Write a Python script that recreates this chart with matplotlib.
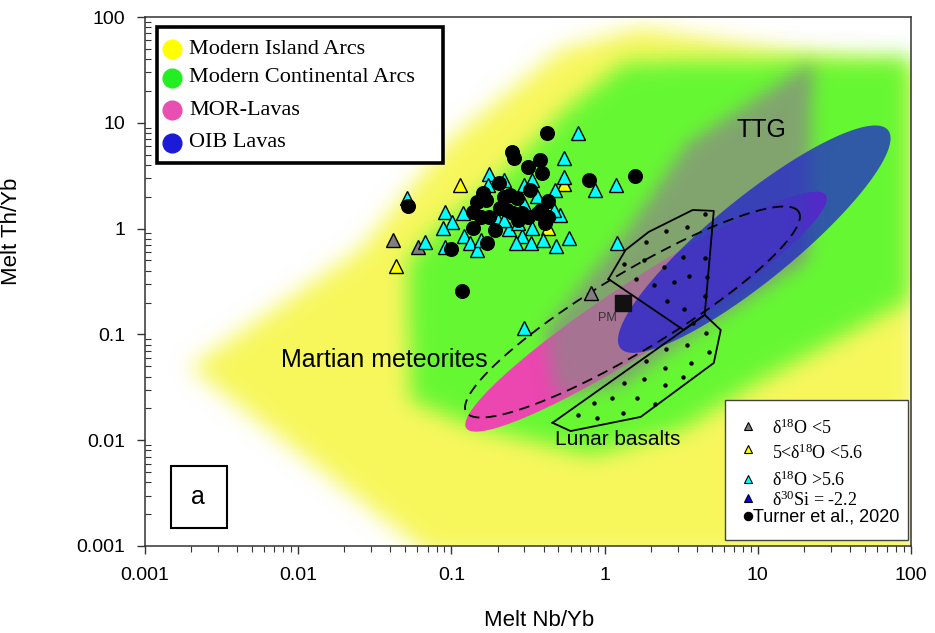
import numpy as np
import matplotlib
matplotlib.use('Agg')
import matplotlib.pyplot as plt
from matplotlib.path import Path
from matplotlib.colors import LinearSegmentedColormap
from matplotlib.patches import Rectangle
from matplotlib.ticker import FixedLocator, FixedFormatter, LogLocator, NullFormatter

plt.rcParams['font.family'] = 'Liberation Sans'
plt.rcParams['mathtext.fontset'] = 'custom'
plt.rcParams['mathtext.rm'] = 'Liberation Serif'
plt.rcParams['mathtext.it'] = 'Liberation Serif:italic'

# ---- field outlines (Nb/Yb, Th/Yb) ----
island_nb = [0.00197, 0.0254, 0.0985, 0.515, 1.72, 22.2, 108, 108, 0.073]
island_th = [0.049, 0.63, 6.9, 48.7, 78.7, 43.8, 35.2, 0.00074, 0.00082]

cont_nb = [1.37, 97, 97, 10.5, 3.14, 0.81, 0.133, 0.054, 0.052, 0.081, 0.209, 0.556]
cont_th = [37.6, 41, 0.21, 0.037, 0.0125, 0.0072, 0.0139, 0.024, 0.505, 0.97, 3.07, 13.2]

ttg_nb = [0.41, 1.41, 3.49, 22.9, 21.2, 4.24, 1.27, 0.48]
ttg_th = [0.11, 0.97, 6.44, 37.6, 0.5, 0.11, 0.033, 0.026]

# ellipses: end points of the long axis + width ratio
mor_nb, mor_th, mor_w = [0.125, 27.8], [0.013, 2.07], 0.16
oib_nb, oib_th, oib_w = [1.27, 70.8], [0.074, 8.53], 0.24
mars_nb, mars_th, mars_w = [0.125, 18.5], [0.0184, 1.44], 0.2

upper_nb = [1.06, 1.37, 1.94, 3.76, 5.16, 4.5, 3.28, 1.06]
upper_th = [0.334, 0.628, 0.93, 1.50, 1.47, 0.153, 0.110, 0.334]
lunar_nb = [0.457, 0.60, 1.72, 5.16, 5.73, 4.5, 3.28, 0.457]
lunar_th = [0.0146, 0.0122, 0.0166, 0.0537, 0.110, 0.153, 0.110, 0.0146]

upper_dots_nb = [4.5, 3.44, 2.5, 1.85, 1.33, 1.8, 2.43, 3.24, 4.5, 1.6, 2.09, 2.83, 3.54, 4.64, 2.54, 3.28, 4.5, 3.76]
upper_dots_th = [1.37, 1.04, 0.95, 0.75, 0.46, 0.50, 0.43, 0.54, 0.53, 0.334, 0.29, 0.31, 0.36, 0.35, 0.207, 0.174, 0.231, 0.128]
lunar_dots_nb = [4.57, 3.44, 2.5, 1.85, 4.79, 3.65, 2.47, 1.33, 1.8, 2.47, 3.24, 0.85, 1.11, 1.62, 2.12, 0.67, 0.89, 1.31]
lunar_dots_th = [0.103, 0.079, 0.073, 0.056, 0.068, 0.054, 0.048, 0.035, 0.038, 0.033, 0.040, 0.0225, 0.025, 0.025, 0.022, 0.0173, 0.0162, 0.018]

pm_nb, pm_th = 1.31, 0.198

# ---- samples ----
turner_nb = [0.418, 0.250, 0.258, 0.376, 0.314, 0.393, 0.786, 1.57, 0.203, 0.160,
             0.328, 0.148, 0.167, 0.219, 0.243, 0.270, 0.424, 0.139, 0.155, 0.175,
             0.209, 0.232, 0.254, 0.291, 0.314, 0.365, 0.382, 0.424, 0.411, 0.139,
             0.194, 0.172, 0.100, 0.0524, 0.118, 0.274]
turner_th = [8.0, 5.3, 4.65, 4.45, 3.82, 3.35, 2.88, 3.14, 2.70, 2.17,
             2.32, 1.78, 1.86, 1.99, 2.08, 1.95, 1.82, 1.44, 1.29, 1.29,
             1.57, 1.50, 1.40, 1.40, 1.29, 1.40, 1.50, 1.29, 1.13, 1.01,
             0.97, 0.731, 0.641, 1.64, 0.257, 1.21]

hi_nb = [0.667, 0.540, 0.177, 0.219, 0.296, 0.338, 0.540, 0.471, 0.360, 0.861,
         1.18, 0.1746, 0.0914, 0.1197, 0.1016, 0.0887, 0.0676, 0.0914, 0.1216, 0.133,
         0.148, 0.155, 0.236, 0.291, 0.266, 0.333, 0.338, 0.399, 0.485, 0.582,
         0.515, 0.464, 0.296, 0.200, 1.20, 0.296, 0.0515, 0.219, 0.274]
hi_th = [8.0, 4.65, 3.28, 2.88, 2.58, 2.88, 3.07, 2.32, 2.03, 2.32,
         2.58, 2.58, 1.44, 1.40, 1.15, 1.01, 0.747, 0.670, 0.851, 0.731,
         0.628, 0.780, 0.99, 0.851, 0.731, 0.731, 1.01, 0.780, 0.685, 0.815,
         1.34, 1.50, 1.71, 1.21, 0.731, 0.115, 1.95, 1.21, 1.13]

mid_nb = [0.1145, 0.0437, 0.540, 0.424]
mid_th = [2.58, 0.443, 2.64, 1.01]
low_nb = [0.0418, 0.0608, 0.810]
low_th = [0.780, 0.670, 0.246]
si_nb = [0.46]
si_th = [1.40]

tick_vals = [0.001, 0.01, 0.1, 1, 10, 100]
tick_text = ['0.001', '0.01', '0.1', '1', '10', '100']

field_labels = ['Modern Island Arcs', 'Modern Continental Arcs', 'MOR-Lavas', 'OIB Lavas']
field_colors = ['#FFFF00', '#22EE22', '#E84FB0', '#1A1AD8']

sample_labels = ['δ$^{18}$O <5', '5<δ$^{18}$O <5.6', 'δ$^{18}$O >5.6', 'δ$^{30}$Si = -2.2',
                 'Turner et al., 2020']


def smooth(a, s):
    r = int(3 * s)
    k = np.exp(-0.5 * (np.arange(-r, r + 1) / s) ** 2)
    k /= k.sum()
    a = np.apply_along_axis(np.convolve, 0, a, k, mode='same')
    a = np.apply_along_axis(np.convolve, 1, a, k, mode='same')
    return a


fig = plt.figure(figsize=(9.35, 6.33), dpi=100)
ax = fig.add_axes([145 / 935, 87 / 633, 766 / 935, 529 / 633])
ax.set_xscale('log')
ax.set_yscale('log')

# grid in log space for the soft-edged fields
lx_e = np.arange(-3.4, 2.4001, 0.01)
ly_e = np.arange(-3.4, 2.4001, 0.0145)
gx, gy = np.meshgrid((lx_e[:-1] + lx_e[1:]) / 2, (ly_e[:-1] + ly_e[1:]) / 2)
pts = np.column_stack([gx.ravel(), gy.ravel()])


def soft_field(nb, th, color, alpha, s, z):
    poly = Path(np.column_stack([np.log10(nb), np.log10(th)]))
    m = poly.contains_points(pts).reshape(gx.shape).astype(float)
    m = smooth(m, s)
    cm = LinearSegmentedColormap.from_list('f', [(*color, 0), (*color, alpha)])
    ax.pcolormesh(10 ** lx_e, 10 ** ly_e, m, cmap=cm, vmin=0, vmax=1,
                  shading='flat', antialiased=False, linewidth=0, zorder=z, rasterized=True)


def ellipse(nb, th, ratio, n=300):
    kx = ax.bbox.width / 5.0
    ky = ax.bbox.height / 5.0
    p0 = np.array([np.log10(nb[0]) * kx, np.log10(th[0]) * ky])
    p1 = np.array([np.log10(nb[1]) * kx, np.log10(th[1]) * ky])
    c = (p0 + p1) / 2
    d = p1 - p0
    a = np.hypot(*d) / 2
    u = d / (2 * a)
    v = np.array([-u[1], u[0]])
    t = np.linspace(0, 2 * np.pi, n)
    p = c + a * np.cos(t)[:, None] * u + ratio * a * np.sin(t)[:, None] * v
    return 10 ** (p[:, 0] / kx), 10 ** (p[:, 1] / ky)


soft_field(island_nb, island_th, (0.97, 0.97, 0.36), 1.0, 7.0, 1.0)
soft_field(cont_nb, cont_th, (0.40, 0.97, 0.20), 1.0, 7.0, 1.1)
ex, ey = ellipse(mor_nb, mor_th, mor_w)
ax.fill(ex, ey, color='#EC46B0', lw=0, zorder=1.2)
soft_field(ttg_nb, ttg_th, (0.55, 0.52, 0.53), 0.72, 5.5, 1.3)
ex, ey = ellipse(oib_nb, oib_th, oib_w)
ax.fill(ex, ey, color='#1C1DD2', alpha=0.72, lw=0, zorder=1.4)

ex, ey = ellipse(mars_nb, mars_th, mars_w)
ax.plot(ex, ey, color='black', lw=1.3, ls=(0, (6, 3.5)), zorder=3)
ax.plot(upper_nb, upper_th, color='black', lw=1.3, zorder=3)
ax.plot(lunar_nb, lunar_th, color='black', lw=1.3, zorder=3)
ax.plot(upper_dots_nb + lunar_dots_nb, upper_dots_th + lunar_dots_th, ls='', marker='o',
        ms=2.2, color='black', zorder=3)
ax.plot(pm_nb, pm_th, ls='', marker='s', ms=11.5, color='#111111', zorder=4)
ax.text(pm_nb * 0.79, pm_th * 0.72, 'PM', fontsize=9, color='#333333', ha='center',
        va='center', zorder=4)

tri = dict(ls='', marker='^', ms=9.5, mec='black', mew=1.0, zorder=5)
ax.plot(low_nb, low_th, mfc='#7F7F7F', **tri)
ax.plot(mid_nb, mid_th, mfc='#FFFF00', **tri)
ax.plot(si_nb, si_th, mfc='#0000FF', **tri)
ax.plot(hi_nb, hi_th, mfc='#00FFFF', **tri)
ax.plot(turner_nb, turner_th, ls='', marker='o', ms=9.8, color='black', zorder=6)

ax.text(10.6, 8.5, 'TTG', fontsize=18, ha='center', va='center', zorder=7)
ax.text(0.0365, 0.0573, 'Martian meteorites', fontsize=18, ha='center', va='center', zorder=7)
ax.text(1.22, 0.0101, 'Lunar basalts', fontsize=15, ha='center', va='center', zorder=7)

ax.set_xlim(1e-3, 1e2)
ax.set_ylim(1e-3, 1e2)
for axis in (ax.xaxis, ax.yaxis):
    axis.set_major_locator(FixedLocator(tick_vals))
    axis.set_major_formatter(FixedFormatter(tick_text))
    axis.set_minor_locator(LogLocator(base=10, subs=np.arange(2, 10)))
    axis.set_minor_formatter(NullFormatter())
ax.tick_params(which='major', direction='out', length=6, width=1, labelsize=14, color='#333333')
ax.tick_params(axis='x', which='major', pad=9)
ax.tick_params(axis='y', which='major', pad=8)
ax.tick_params(axis='x', which='minor', direction='out', length=4, width=0.8, color='#333333')
ax.tick_params(axis='y', which='minor', direction='in', length=4, width=0.8, color='#333333')
for sp in ax.spines.values():
    sp.set_color('#333333')
    sp.set_linewidth(1.1)

ax.set_xlabel('Melt Nb/Yb', fontsize=16)
ax.set_ylabel('Melt Th/Yb', fontsize=16)
ax.xaxis.set_label_coords(0.514, -0.121)
ax.yaxis.set_label_coords(-0.161, 0.594)

# field legend (top left)
ax.add_patch(Rectangle((0.0157, 0.724), 0.373, 0.257, transform=ax.transAxes,
                       fc='white', ec='black', lw=2.6, zorder=10))
for lab, col, yy in zip(field_labels, field_colors, [0.939, 0.885, 0.824, 0.762]):
    ax.plot([0.0352], [yy], transform=ax.transAxes, marker='o', ms=13.5, color=col,
            ls='', zorder=11, clip_on=False)
    ax.text(0.0574, yy, lab, transform=ax.transAxes, fontsize=16, family='Liberation Serif',
            va='center', ha='left', zorder=11)

# sample legend (bottom right)
ax.add_patch(Rectangle((0.757, 0.0113), 0.239, 0.265, transform=ax.transAxes,
                       fc='white', ec='#444444', lw=1, zorder=10))
sym_colors = ['#7F7F7F', '#FFFF00', '#00FFFF', '#0000FF', 'black']
sym_y = [0.227, 0.183, 0.127, 0.091, 0.057]
txt_y = [0.223, 0.176, 0.125, 0.087, 0.055]
for i, lab in enumerate(sample_labels):
    mk = 'o' if i == 4 else '^'
    ax.plot([0.787], [sym_y[i]], transform=ax.transAxes, marker=mk, ms=6,
            mfc=sym_colors[i], mec='black', mew=0.8, ls='', zorder=11)
    if i == 4:
        ax.text(0.794, txt_y[i], lab, transform=ax.transAxes, fontsize=13, va='center',
                ha='left', zorder=11)
    else:
        ax.text(0.8185, txt_y[i], lab, transform=ax.transAxes, fontsize=13,
                family='Liberation Serif', va='center', ha='left', zorder=11)

# panel letter
ax.add_patch(Rectangle((0.0339, 0.034), 0.073, 0.117, transform=ax.transAxes,
                       fc='white', ec='black', lw=1.5, zorder=10))
ax.text(0.0692, 0.0926, 'a', transform=ax.transAxes, fontsize=18, ha='center',
        va='center', zorder=11)

fig.savefig('out.png', dpi=100)
